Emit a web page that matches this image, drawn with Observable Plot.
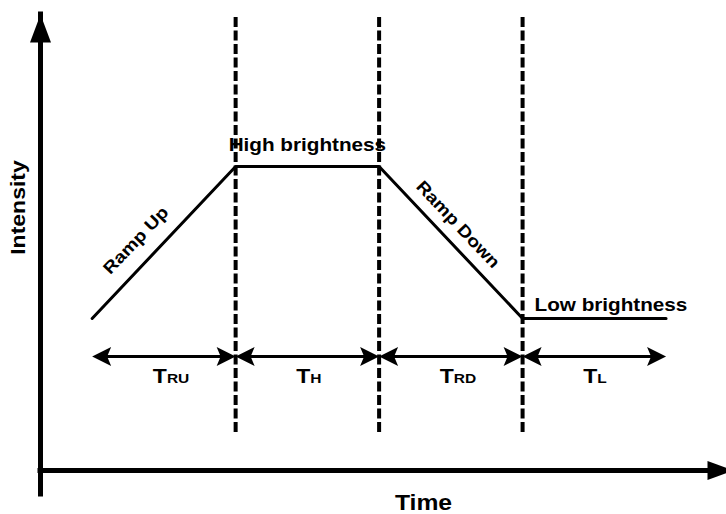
<!DOCTYPE html>
<html>
<head>
<meta charset="utf-8">
<script src="https://cdn.jsdelivr.net/npm/d3@7"></script>
<script src="https://cdn.jsdelivr.net/npm/@observablehq/plot@0.6"></script>
<style>
  html, body { margin: 0; padding: 0; background: #fff; }
</style>
</head>
<body>
<div id="chart"></div>
<script>
// ---- data ----
const phaseTimes = [0, 1, 2, 3, 4];
const intensityLevels = [1, 2, 2, 1, 1];
const phaseBoundaries = [1, 2, 3];
const spanStarts = [0, 1, 2, 3];
const spanEnds = [1, 2, 3, 4];
const spanSubscripts = ["RU", "H", "RD", "L"];
const spanLevel = 0.75;
const guideExtent = [0.25, 3];
const timeAxisExtent = [-0.36, 4.47];
const intensityAxisExtent = [0, 3];
const stateLabels = ["High brightness", "Low brightness"];
const rampLabels = ["Ramp Up", "Ramp Down"];
const axisTitles = ["Time", "Intensity"];

// ---- derived tables ----
const profile = phaseTimes.map((t, i) => ({t, v: intensityLevels[i]}));
const spans = spanStarts.map((s, i) => ({t1: s, t2: spanEnds[i], mid: (s + spanEnds[i]) / 2, sub: spanSubscripts[i]}));
const highState = [{t: (phaseTimes[1] + phaseTimes[2]) / 2, v: intensityLevels[1], label: stateLabels[0]}];
const lowState = [{t: phaseTimes[3], v: intensityLevels[3], label: stateLabels[1]}];
const rampUp = [{t: (phaseTimes[0] + phaseTimes[1]) / 2, v: (intensityLevels[0] + intensityLevels[1]) / 2, label: rampLabels[0]}];
const rampDown = [{t: (phaseTimes[2] + phaseTimes[3]) / 2, v: (intensityLevels[2] + intensityLevels[3]) / 2, label: rampLabels[1]}];

// arrowhead symbol pointing to +x with its tip at the origin
const arrowHead = (len, half, notch) => ({
  draw(ctx) {
    ctx.moveTo(0, 0);
    ctx.lineTo(-len, -half);
    ctx.lineTo(-len + notch, 0);
    ctx.lineTo(-len, half);
    ctx.closePath();
  }
});
const spanHead = arrowHead(19, 9.5, 4);
const xAxisHead = arrowHead(26, 9.5, 0);
const yAxisHead = arrowHead(28, 10.5, 0);

const FONT = "'Liberation Sans', Arial, Helvetica, sans-serif";
const ink = "#000";

const chart = Plot.plot({
  width: 726,
  height: 514,
  margin: 0,
  style: {background: "#fff", fontFamily: FONT},
  x: {domain: timeAxisExtent, range: [40, 733], axis: null},
  y: {domain: intensityAxisExtent, range: [470, 14], axis: null},
  marks: [
    // dashed phase boundaries
    Plot.ruleX(phaseBoundaries, {x: d => d, y1: guideExtent[0], y2: guideExtent[1], stroke: ink, strokeWidth: 4, strokeDasharray: "10,3.5"}),
    // axes
    Plot.ruleY([intensityAxisExtent[0]], {y: d => d, x1: timeAxisExtent[0], x2: timeAxisExtent[1], insetRight: 22, stroke: ink, strokeWidth: 5, strokeLinecap: "square"}),
    Plot.ruleX([timeAxisExtent[0]], {x: d => d, y1: intensityAxisExtent[0], y2: intensityAxisExtent[1], insetTop: 24, stroke: ink, strokeWidth: 5, strokeLinecap: "square"}),
    Plot.dot([{t: timeAxisExtent[1], v: intensityAxisExtent[0]}], {x: "t", y: "v", r: 1, symbol: xAxisHead, rotate: 0, fill: ink, stroke: "none"}),
    Plot.dot([{t: timeAxisExtent[0], v: intensityAxisExtent[1]}], {x: "t", y: "v", r: 1, symbol: yAxisHead, rotate: -90, fill: ink, stroke: "none"}),
    // intensity profile
    Plot.line(profile, {x: "t", y: "v", stroke: ink, strokeWidth: 3, strokeLinejoin: "miter"}),
    // duration spans
    Plot.ruleY(spans, {y: spanLevel, x1: "t1", x2: "t2", insetLeft: 10, insetRight: 10, stroke: ink, strokeWidth: 3}),
    Plot.dot(spans, {x: "t2", y: spanLevel, r: 1, symbol: spanHead, rotate: 0, fill: ink, stroke: "none"}),
    Plot.dot(spans, {x: "t1", y: spanLevel, r: 1, symbol: spanHead, rotate: 180, fill: ink, stroke: "none"}),
    Plot.text(spans, {x: "mid", y: spanLevel, text: () => "T", textAnchor: "end", lineAnchor: "bottom", dx: 3, dy: 26, fontSize: 20, fontWeight: "bold", fill: ink}),
    Plot.text(spans, {x: "mid", y: spanLevel, text: "sub", textAnchor: "start", lineAnchor: "bottom", dx: 3, dy: 26, fontSize: 13.5, fontWeight: "bold", fill: ink}),
    // state labels
    Plot.text(highState, {x: "t", y: "v", text: "label", textAnchor: "middle", lineAnchor: "bottom", dy: -16, fontSize: 18, fontWeight: "bold", fill: ink}),
    Plot.text(lowState, {x: "t", y: "v", text: "label", textAnchor: "start", lineAnchor: "bottom", dx: 12, dy: -8, fontSize: 18, fontWeight: "bold", fill: ink}),
    Plot.text(rampUp, {x: "t", y: "v", text: "label", textAnchor: "middle", lineAnchor: "middle", rotate: -46.5, dx: -28, dy: -2, fontSize: 17, fontWeight: "bold", fill: ink}),
    Plot.text(rampDown, {x: "t", y: "v", text: "label", textAnchor: "middle", lineAnchor: "middle", rotate: 46.7, dx: 7, dy: -18, fontSize: 17, fontWeight: "bold", fill: ink}),
    // axis titles
    Plot.text([axisTitles[0]], {text: d => d, frameAnchor: "bottom", textAnchor: "middle", lineAnchor: "bottom", dx: 60, dy: -5, fontSize: 21.5, fontWeight: "bold", fill: ink}),
    Plot.text([axisTitles[1]], {text: d => d, frameAnchor: "left", textAnchor: "middle", lineAnchor: "middle", rotate: -90, dx: 18, dy: -50, fontSize: 20, fontWeight: "bold", fill: ink})
  ]
});

// widen glyphs slightly (the reference lettering is horizontally stretched)
const STRETCH = 1.15;
chart.querySelectorAll("text").forEach(el => {
  const tr = el.getAttribute("transform");
  if (tr) {
    el.setAttribute("transform", tr + ` scale(${STRETCH},1)`);
  } else {
    const x = +(el.getAttribute("x") || 0), y = +(el.getAttribute("y") || 0);
    el.removeAttribute("x");
    el.removeAttribute("y");
    el.setAttribute("transform", `translate(${x},${y}) scale(${STRETCH},1)`);
  }
});

document.getElementById("chart").append(chart);
</script>
</body>
</html>
